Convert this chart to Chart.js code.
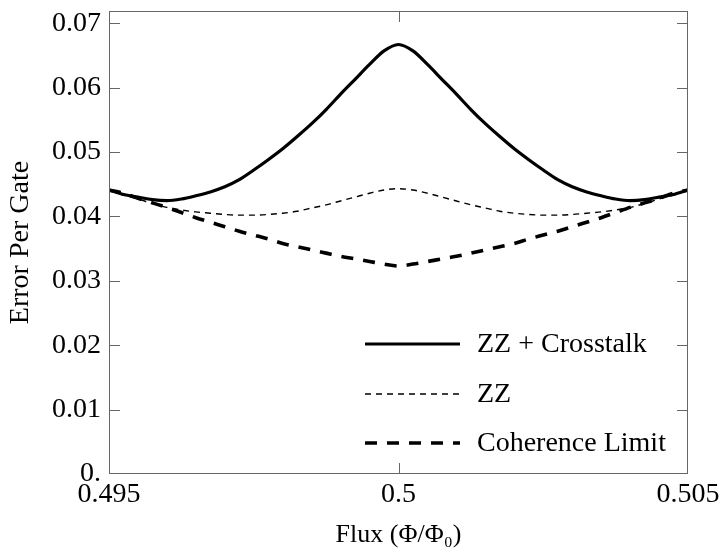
<!DOCTYPE html>
<html>
<head>
<meta charset="utf-8">
<script src="https://cdn.jsdelivr.net/npm/chart.js@4/dist/chart.umd.min.js"></script>
<style>
  html, body { margin: 0; padding: 0; background: #fff; }
  #wrap { width: 721px; height: 559px; }
</style>
</head>
<body>
<div id="wrap"><canvas id="c" width="721" height="559"></canvas></div>
<script>
'use strict';

const flux = [
  0.495, 0.49525, 0.4955, 0.49575, 0.496, 0.49625, 0.4965, 0.49675, 0.497, 0.49725,
  0.4975, 0.49775, 0.498, 0.49825, 0.4985, 0.49875, 0.499, 0.49925, 0.4995, 0.49975,
  0.5,
  0.50025, 0.5005, 0.50075, 0.501, 0.50125, 0.5015, 0.50175, 0.502, 0.50225, 0.5025,
  0.50275, 0.503, 0.50325, 0.5035, 0.50375, 0.504, 0.50425, 0.5045, 0.50475, 0.505
];

const zzCrosstalk = [
  0.0441, 0.0434, 0.0430, 0.0426, 0.04245, 0.0427, 0.0432, 0.0438, 0.0446, 0.0457,
  0.0472, 0.0488, 0.0505, 0.0524, 0.0544, 0.0566, 0.0590, 0.0613, 0.0636, 0.0657,
  0.0667,
  0.0657, 0.0636, 0.0613, 0.0590, 0.0566, 0.0544, 0.0524, 0.0505, 0.0488, 0.0472,
  0.0457, 0.0446, 0.0438, 0.0432, 0.0427, 0.04245, 0.0426, 0.0430, 0.0434, 0.0441
];

const zz = [
  0.0441, 0.0433, 0.0427, 0.0420, 0.0414, 0.0410, 0.0407, 0.0405, 0.0403, 0.0402,
  0.0402, 0.0403, 0.0405, 0.0408, 0.0413, 0.0418, 0.0424, 0.0430, 0.0436, 0.0441,
  0.0443,
  0.0441, 0.0436, 0.0430, 0.0424, 0.0418, 0.0413, 0.0408, 0.0405, 0.0403, 0.0402,
  0.0402, 0.0403, 0.0405, 0.0407, 0.0410, 0.0414, 0.0420, 0.0427, 0.0433, 0.0441
];

const coherence = [
  0.0441, 0.0436, 0.0428, 0.0421, 0.0414, 0.0406, 0.0398, 0.0391, 0.0384, 0.0377,
  0.0371, 0.0365, 0.0358, 0.0353, 0.0348, 0.0343, 0.0338, 0.0334, 0.0330, 0.0326,
  0.0323,
  0.0326, 0.0330, 0.0334, 0.0338, 0.0343, 0.0348, 0.0353, 0.0358, 0.0365, 0.0371,
  0.0377, 0.0384, 0.0391, 0.0398, 0.0406, 0.0414, 0.0421, 0.0428, 0.0436, 0.0441
];

const xTicks = [0.495, 0.5, 0.505];
const yTicks = [0, 0.01, 0.02, 0.03, 0.04, 0.05, 0.06, 0.07];

const FONT = '"Liberation Serif", "Times New Roman", "DejaVu Serif", serif';
const FRAME = '#666';

const pts = ys => flux.map((x, i) => ({ x, y: ys[i] }));

// inward tick marks + frame, drawn on the library's scales
const frameTicks = {
  id: 'frameTicks',
  afterDatasetsDraw(chart) {
    const { ctx, chartArea: a, scales } = chart;
    const len = 11;
    ctx.save();
    ctx.strokeStyle = FRAME;
    ctx.lineWidth = 1;
    ctx.strokeRect(a.left + 0.5, a.top + 0.5, a.right - a.left - 1, a.bottom - a.top - 1);
    ctx.beginPath();
    yTicks.forEach(v => {
      if (v <= scales.y.min) return;
      const y = Math.round(scales.y.getPixelForValue(v)) + 0.5;
      ctx.moveTo(a.left, y); ctx.lineTo(a.left + len, y);
      ctx.moveTo(a.right, y); ctx.lineTo(a.right - len, y);
    });
    xTicks.forEach(v => {
      if (v <= scales.x.min || v >= scales.x.max) return;
      const x = Math.round(scales.x.getPixelForValue(v)) + 0.5;
      ctx.moveTo(x, a.bottom); ctx.lineTo(x, a.bottom - len);
      ctx.moveTo(x, a.top); ctx.lineTo(x, a.top + len);
    });
    ctx.stroke();
    ctx.restore();
  }
};

// legend inside the plot, bottom right
const insideLegend = {
  id: 'insideLegend',
  afterDraw(chart) {
    const { ctx } = chart;
    const x0 = 365, x1 = 460, tx = 477;
    const rows = [344, 394, 443];
    ctx.save();
    ctx.font = '28px ' + FONT;
    ctx.textBaseline = 'middle';
    ctx.fillStyle = '#000';
    chart.data.datasets.forEach((ds, i) => {
      const y = rows[i];
      ctx.beginPath();
      ctx.strokeStyle = ds.borderColor;
      ctx.lineWidth = ds.borderWidth;
      ctx.setLineDash(ds.borderDash || []);
      ctx.moveTo(x0, y); ctx.lineTo(x1, y);
      ctx.stroke();
      ctx.setLineDash([]);
      ctx.fillText(ds.label, tx, y + 1);
    });
    ctx.restore();
  }
};

const noPad = s => { s.paddingTop = 0; s.paddingBottom = 0; s.paddingLeft = 0; s.paddingRight = 0; };

new Chart(document.getElementById('c'), {
  type: 'line',
  data: {
    datasets: [
      { label: 'ZZ + Crosstalk', data: pts(zzCrosstalk), borderColor: '#000', borderWidth: 3.2 },
      { label: 'ZZ', data: pts(zz), borderColor: '#000', borderWidth: 1.4, borderDash: [6, 5] },
      { label: 'Coherence Limit', data: pts(coherence), borderColor: '#000', borderWidth: 3.6, borderDash: [12, 10] }
    ]
  },
  options: {
    responsive: false,
    animation: false,
    layout: { padding: { top: 11, right: 33, left: 0, bottom: 0 } },
    elements: { point: { radius: 0 }, line: { cubicInterpolationMode: 'monotone', fill: false } },
    plugins: { legend: { display: false }, tooltip: { enabled: false } },
    scales: {
      x: {
        type: 'linear', min: 0.495, max: 0.505,
        afterBuildTicks: s => { s.ticks = xTicks.map(value => ({ value })); },
        afterFit: s => { s.height = 85; noPad(s); },
        grid: { display: false, drawTicks: false, tickLength: 0 },
        border: { display: false },
        ticks: { color: '#000', font: { family: FONT, size: 28 }, padding: 4, maxRotation: 0,
          callback: v => String(v) },
        title: { display: true, text: 'Flux (Φ/Φ₀)', color: '#000', font: { family: FONT, size: 26 }, padding: { top: 6, bottom: 8 } }
      },
      y: {
        min: 0, max: 0.0719,
        afterBuildTicks: s => { s.ticks = yTicks.map(value => ({ value })); },
        afterFit: s => { s.width = 109; noPad(s); },
        grid: { display: false, drawTicks: false, tickLength: 0 },
        border: { display: false },
        ticks: { color: '#000', font: { family: FONT, size: 28 }, padding: 8,
          callback: v => v === 0 ? '0.' : v.toFixed(2) },
        title: { display: true, text: 'Error Per Gate', color: '#000', font: { family: FONT, size: 28 }, padding: { top: 4, bottom: 4 } }
      }
    }
  },
  plugins: [frameTicks, insideLegend]
});
</script>
</body>
</html>
